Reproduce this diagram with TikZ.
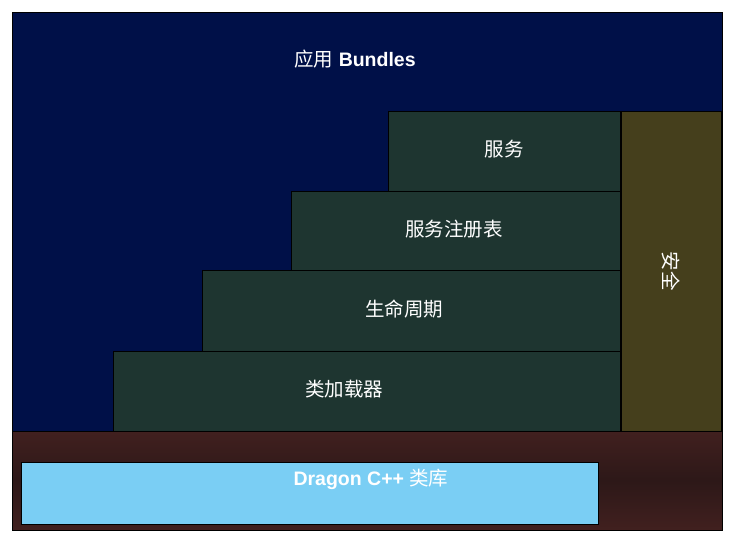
\documentclass[tikz,border=0pt]{standalone}
\usepackage{fontspec}
\setmainfont{Liberation Sans}
\newfontfamily\cjk{Noto Sans CJK SC}
\usetikzlibrary{positioning}

\definecolor{appblue}{HTML}{001048}
\definecolor{layergreen}{HTML}{1E3530}
\definecolor{secolive}{HTML}{453F1C}
\definecolor{libmaroon}{HTML}{41201F}
\definecolor{libdark}{HTML}{2D1818}
\definecolor{liblight}{HTML}{7ACEF4}

\begin{document}
\begin{tikzpicture}[
    x=1pt, y=-1pt,
    font=\fontsize{19.5}{23}\selectfont,
    box/.style={
        draw=black,
        line width=0.8pt,
        inner sep=0pt,
        outer sep=0pt
    },
    app/.style={box, fill=appblue},
    layer/.style={box, fill=layergreen},
    sec/.style={box, fill=secolive},
    base/.style={box, top color=libmaroon, bottom color=libmaroon, middle color=libdark},
    lib/.style={box, fill=liblight},
    txt/.style={text=white}
]
\useasboundingbox (0,0) rectangle (735,543);

% ============================================================
% BLOCKS
% ============================================================
\node[app, minimum width=710pt, minimum height=419pt] (bundles) at (367, 221.5) {};
\node[sec, minimum width=100pt, minimum height=320pt] (security) at (671, 271) {};

% stacked framework layers
\node[layer, minimum width=232pt, minimum height=80pt] (service)  at (504, 151) {};
\node[layer, minimum width=329pt, minimum height=79pt] (registry) at (455.5, 230.5) {};
\node[layer, minimum width=418pt, minimum height=81pt] (life)     at (411, 310.5) {};
\node[layer, minimum width=507pt, minimum height=80pt] (loader)   at (366.5, 391) {};

% native library
\node[base, minimum width=710pt, minimum height=99pt] (native) at (367, 480.5) {};
\node[lib, minimum width=577pt, minimum height=62pt]  (dragon) at (309.5, 493) {};

% ============================================================
% LABELS
% ============================================================
\node[txt] (tapp) at (355, 59)  {{\cjk 应用} \textbf{Bundles}};
\node[txt] (tsvc) at (504, 149) {\cjk 服务};
\node[txt] (treg) at (454, 229) {\cjk 服务注册表};
\node[txt] (tlif) at (404, 309) {\cjk 生命周期};
\node[txt] (tldr) at (344, 389) {\cjk 类加载器};
\node[txt, rotate=-90] (tsec) at (671, 271) {\cjk 安全};
\node[txt] (tlib) at (371, 479) {\textbf{Dragon C++} {\cjk 类库}};

\end{tikzpicture}
\end{document}
